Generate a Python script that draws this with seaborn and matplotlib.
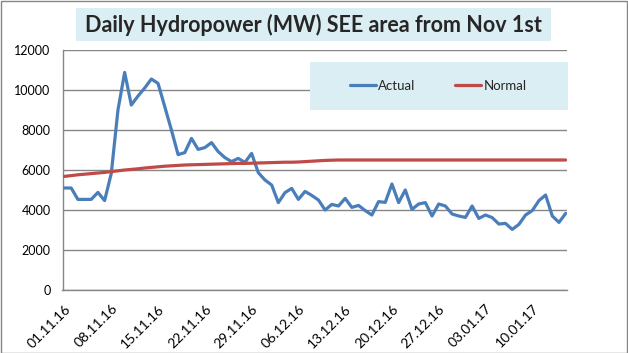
import pandas as pd
import seaborn as sns
import matplotlib.pyplot as plt
from matplotlib.patches import Rectangle

# Daily values, 01.11.16 .. 15.01.17
actual = [5100, 5100, 4530, 4530, 4530, 4880, 4470, 5830, 9000, 10880,
          9250, 9700, 10100, 10550, 10330, 9170, 8000, 6770, 6870, 7580,
          7030, 7120, 7370, 6920, 6620, 6420, 6580, 6380, 6830, 5870,
          5500, 5250, 4370, 4870, 5080, 4530, 4930, 4730, 4500, 4000,
          4280, 4200, 4580, 4130, 4230, 3970, 3750, 4420, 4380, 5300,
          4370, 5000, 4030, 4300, 4370, 3700, 4300, 4200, 3800, 3700,
          3630, 4200, 3580, 3750, 3620, 3300, 3330, 3030, 3280, 3750,
          3970, 4470, 4750, 3700, 3380, 3830]
normal = [5680, 5720, 5760, 5790, 5820, 5850, 5880, 5920, 5960, 6000,
          6030, 6060, 6100, 6130, 6160, 6190, 6210, 6230, 6250, 6260,
          6270, 6280, 6290, 6300, 6310, 6320, 6330, 6330, 6340, 6350,
          6360, 6370, 6380, 6390, 6390, 6400, 6420, 6440, 6460, 6480,
          6490, 6500, 6500, 6500, 6500, 6500, 6500, 6500, 6500, 6500,
          6500, 6500, 6500, 6500, 6500, 6500, 6500, 6500, 6500, 6500,
          6500, 6500, 6500, 6500, 6500, 6500, 6500, 6500, 6500, 6500,
          6500, 6500, 6500, 6500, 6500, 6500]
tick_labels = ["01.11.16", "08.11.16", "15.11.16", "22.11.16", "29.11.16",
               "06.12.16", "13.12.16", "20.12.16", "27.12.16", "03.01.17",
               "10.01.17"]

day = list(range(len(actual)))
df = pd.DataFrame({"day": day * 2,
                   "MW": actual + normal,
                   "series": ["Actual"] * len(actual) + ["Normal"] * len(normal)})

sns.set_style("white")
plt.rcParams['font.family'] = ['Lato', 'DejaVu Sans']

W, H = 628, 353
fig = plt.figure(figsize=(W / 100, H / 100), dpi=100)
ax = fig.add_axes([62.5 / W, 1 - 290 / H, (567 - 62.5) / W, 240 / H])

grid_col = "#868686"
sns.lineplot(data=df, x="day", y="MW", hue="series",
             palette={"Actual": "#4A7EBB", "Normal": "#BE4B48"},
             linewidth=2.3, ax=ax, legend=False, zorder=4)

ax.set_xlim(-0.3, 75.2)
ax.set_ylim(0, 12000)
ax.set_yticks(range(0, 12001, 2000))
ax.set_xticks(range(0, 71, 7))
ax.set_xticklabels(tick_labels, rotation=45, ha="right", rotation_mode="anchor")
ax.tick_params(axis="both", labelsize=9, colors="black", length=5,
               direction="out", color=grid_col, width=1)
ax.tick_params(axis="x", labelsize=10, pad=4)
ax.set_xlabel("")
ax.set_ylabel("")
ax.grid(axis="y", color=grid_col, linewidth=1)
ax.set_axisbelow(True)
for s in ["top", "right"]:
    ax.spines[s].set_visible(False)
for s in ["left", "bottom"]:
    ax.spines[s].set_color(grid_col)
    ax.spines[s].set_linewidth(1)

# title box
fig.patches.append(Rectangle((76 / W, 1 - 41 / H), 475 / W, 33 / H,
                             transform=fig.transFigure, facecolor="#DAEEF3",
                             edgecolor="none", zorder=0))
fig.text(313.5 / W, 1 - 25 / H, "Daily Hydropower (MW) SEE area from Nov 1st",
         ha="center", va="center", fontsize=15.5, fontweight="bold")

# legend box
ax.add_patch(Rectangle((310 / W, 1 - 110 / H), 258 / W, 48 / H,
                       transform=fig.transFigure, facecolor="#DAEEF3",
                       edgecolor="none", zorder=3, clip_on=False))
handles = [plt.Line2D([], [], color="#4A7EBB", lw=2.3),
           plt.Line2D([], [], color="#BE4B48", lw=2.3)]
fig.legend(handles, ["Actual", "Normal"], loc="center",
           bbox_to_anchor=(438 / W, 1 - 86 / H), ncol=2, frameon=False,
           fontsize=9.5, handlelength=2.0, handletextpad=0.15,
           columnspacing=3.0)

# outer border
fig.patches.append(Rectangle((0.5 / W, 0.5 / H), 1 - 1.5 / W, 1 - 1.5 / H,
                             transform=fig.transFigure, facecolor="none",
                             edgecolor=grid_col, linewidth=1, zorder=5))

plt.savefig("out.png", dpi=100)
